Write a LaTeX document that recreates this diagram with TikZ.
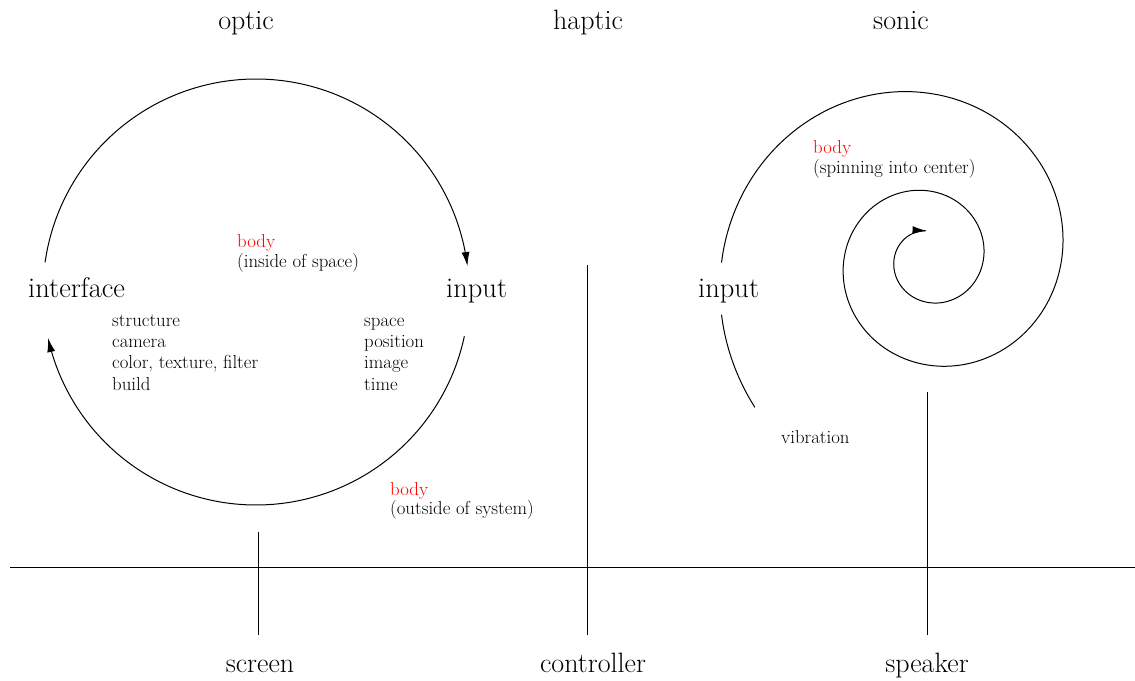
\documentclass[tikz,border=0pt]{standalone}
\usetikzlibrary{arrows.meta}
\begin{document}
\begin{tikzpicture}[x=1pt,y=-1pt,
  lw/.style={line width=1pt},
  arr/.style={-{Latex[length=14pt,width=8pt]}},
  big/.style={font=\fontsize{28.5}{34}\selectfont, inner sep=0pt, anchor=base west},
  hd/.style={font=\fontsize{28}{34}\selectfont, inner sep=0pt, anchor=base},
  small/.style={font=\fontsize{18.8}{22}\selectfont, inner sep=0pt, anchor=base west},
  redt/.style={small, text=red},
]
\useasboundingbox (0,0) rectangle (1135,680);

% headings
\node[hd] (optic) at (246,29) {optic};
\node[hd] (haptic) at (588,29) {haptic};
\node[hd] (sonic) at (901,29) {sonic};
\node[hd] (screen) at (260,672) {screen};
\node[hd] (controller) at (593,672) {controller};
\node[hd] (speaker) at (927,672) {speaker};

% baseline and stems
\coordinate (hl) at (10,567);
\coordinate (hr) at (1135,567);
\draw[lw] (hl) -- (hr);
\coordinate (s1t) at (258,532); \coordinate (s1b) at (258,635);
\coordinate (s2t) at (587,265); \coordinate (s2b) at (587,635);
\coordinate (s3t) at (927,392); \coordinate (s3b) at (927,635);
\draw[lw] (s1t) -- (s1b);
\draw[lw] (s2t) -- (s2b);
\draw[lw] (s3t) -- (s3b);

% optic circle
\node[big] (interface) at (28,297) {interface};
\node[big] (input1) at (446,297) {input};
\draw[lw,arr] plot[domain=188:353, samples=120, smooth] ({256+213*cos(\x)},{292+213*sin(\x)});
\draw[lw,arr] plot[domain=12:167.5, samples=120, smooth] ({256+213*cos(\x)},{292+213*sin(\x)});

\node[redt] (body1) at (237,247) {body};
\node[small] (inside) at (237,267) {(inside of space)};

\node[small] (l1) at (112,326) {structure};
\node[small] (l2) at (112,347) {camera};
\node[small] (l3) at (112,368) {color, texture, filter};
\node[small] (l4) at (112,390) {build};

\node[small] (r1) at (364,326) {space};
\node[small] (r2) at (364,347) {position};
\node[small] (r3) at (364,368) {image};
\node[small] (r4) at (364,390) {time};

\node[redt] (body2) at (390,495) {body};
\node[small] (outside) at (390,514) {(outside of system)};

% sonic spiral
\node[big] (input2) at (698,297) {input};
\draw[lw] plot[domain=139.6:165, samples=40, smooth] ({929+207*exp(-0.0024654*(\x-180))*cos(\x)},{259+207*exp(-0.0024654*(\x-180))*sin(\x)});
\draw[lw,arr] plot[domain=179:985, samples=400, smooth] ({929+207*exp(-0.0024654*(\x-180))*cos(\x)},{259+207*exp(-0.0024654*(\x-180))*sin(\x)});

\node[redt] (body3) at (813,153) {body};
\node[small] (spin) at (813,173) {(spinning into center)};
\node[small] (vib) at (781,443) {vibration};
\end{tikzpicture}
\end{document}
